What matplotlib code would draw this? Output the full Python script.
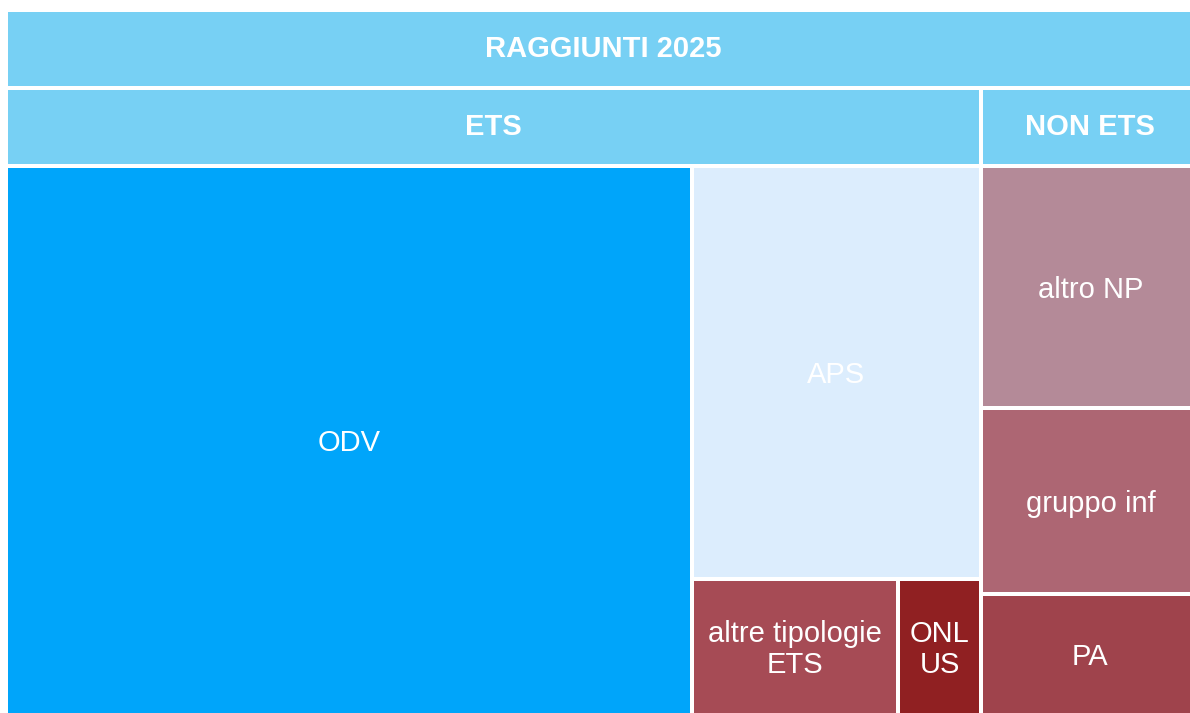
import matplotlib
matplotlib.use("Agg")
import matplotlib.pyplot as plt
from matplotlib.patches import Rectangle

plt.rcParams['font.family'] = ['Liberation Sans', 'DejaVu Sans']

# ---- data ----
root_name = "RAGGIUNTI 2025"
groups = ["ETS", "NON ETS"]
ets_categories = ["ODV", "APS", "altre tipologie ETS", "ONLUS"]
ets_values = [67.0, 21.2, 5.0, 2.0]
non_ets_categories = ["altro NP", "gruppo inf", "PA"]
non_ets_values = [9.45, 7.25, 4.7]

ets_colors = ["#00a5fa", "#dcedfd", "#a64b55", "#902022"]
non_ets_colors = ["#b48a98", "#ad6673", "#9f434c"]
header_color = "#77d0f4"
display_labels = {"altre tipologie ETS": "altre tipologie\nETS", "ONLUS": "ONL\nUS"}

# ---- layout helpers ----
def worst(row, side):
    s = sum(row)
    return max(max(side * side * r / (s * s), s * s / (side * side * r)) for r in row)


def squarify(vals, x, y, w, h):
    total = sum(vals)
    areas = [v * w * h / total for v in vals]
    rects = []
    i = 0
    while i < len(areas):
        side = min(w, h)
        row = [areas[i]]
        j = i + 1
        while j < len(areas) and worst(row + [areas[j]], side) <= worst(row, side):
            row.append(areas[j])
            j += 1
        s = sum(row)
        if w >= h:
            cw = s / h
            yy = y
            for a in row:
                rh = a / cw
                rects.append((x, yy, cw, rh))
                yy += rh
            x += cw
            w -= cw
        else:
            rh = s / w
            xx = x
            for a in row:
                rw = a / rh
                rects.append((xx, y, rw, rh))
                xx += rw
            y += rh
            h -= rh
        i = j
    return rects


W, H = 1190, 713
fig = plt.figure(figsize=(W / 100, H / 100), dpi=100)
ax = fig.add_axes([0, 0, 1, 1])
ax.set_xlim(0, W)
ax.set_ylim(H, 0)
ax.axis("off")

GAP = 2.0
HEADER = 78
FS = 21
TEXT_DY = 2.5


def draw_cell(rect, color, label, bold=False):
    x, y, w, h = rect
    ax.add_patch(Rectangle((x + GAP, y + GAP), w - 2 * GAP, h - 2 * GAP,
                           facecolor=color, edgecolor="none"))
    txt = display_labels.get(label, label)
    dy = 0 if bold else TEXT_DY
    ax.text(x + w / 2, y + h / 2 + dy, txt, ha="center", va="center",
            color="white", fontsize=FS, fontweight="bold" if bold else "normal",
            linespacing=1.12, clip_on=True)


# root
rx, ry, rw, rh = 6, 10, 1194, 705
draw_cell((rx, ry, rw, HEADER), header_color, root_name, bold=True)
group_totals = [sum(ets_values), sum(non_ets_values)]
group_rects = squarify(group_totals, rx, ry + HEADER, rw, rh - HEADER)

children = [(ets_categories, ets_values, ets_colors),
            (non_ets_categories, non_ets_values, non_ets_colors)]

for gname, grect, (cats, vals, cols) in zip(groups, group_rects, children):
    gx, gy, gw, gh = grect
    draw_cell((gx, gy, gw, HEADER), header_color, gname, bold=True)
    crects = squarify(vals, gx, gy + HEADER, gw, gh - HEADER)
    for c, r, col in zip(cats, crects, cols):
        draw_cell(r, col, c)

fig.savefig("out.png", dpi=100, facecolor="white")
